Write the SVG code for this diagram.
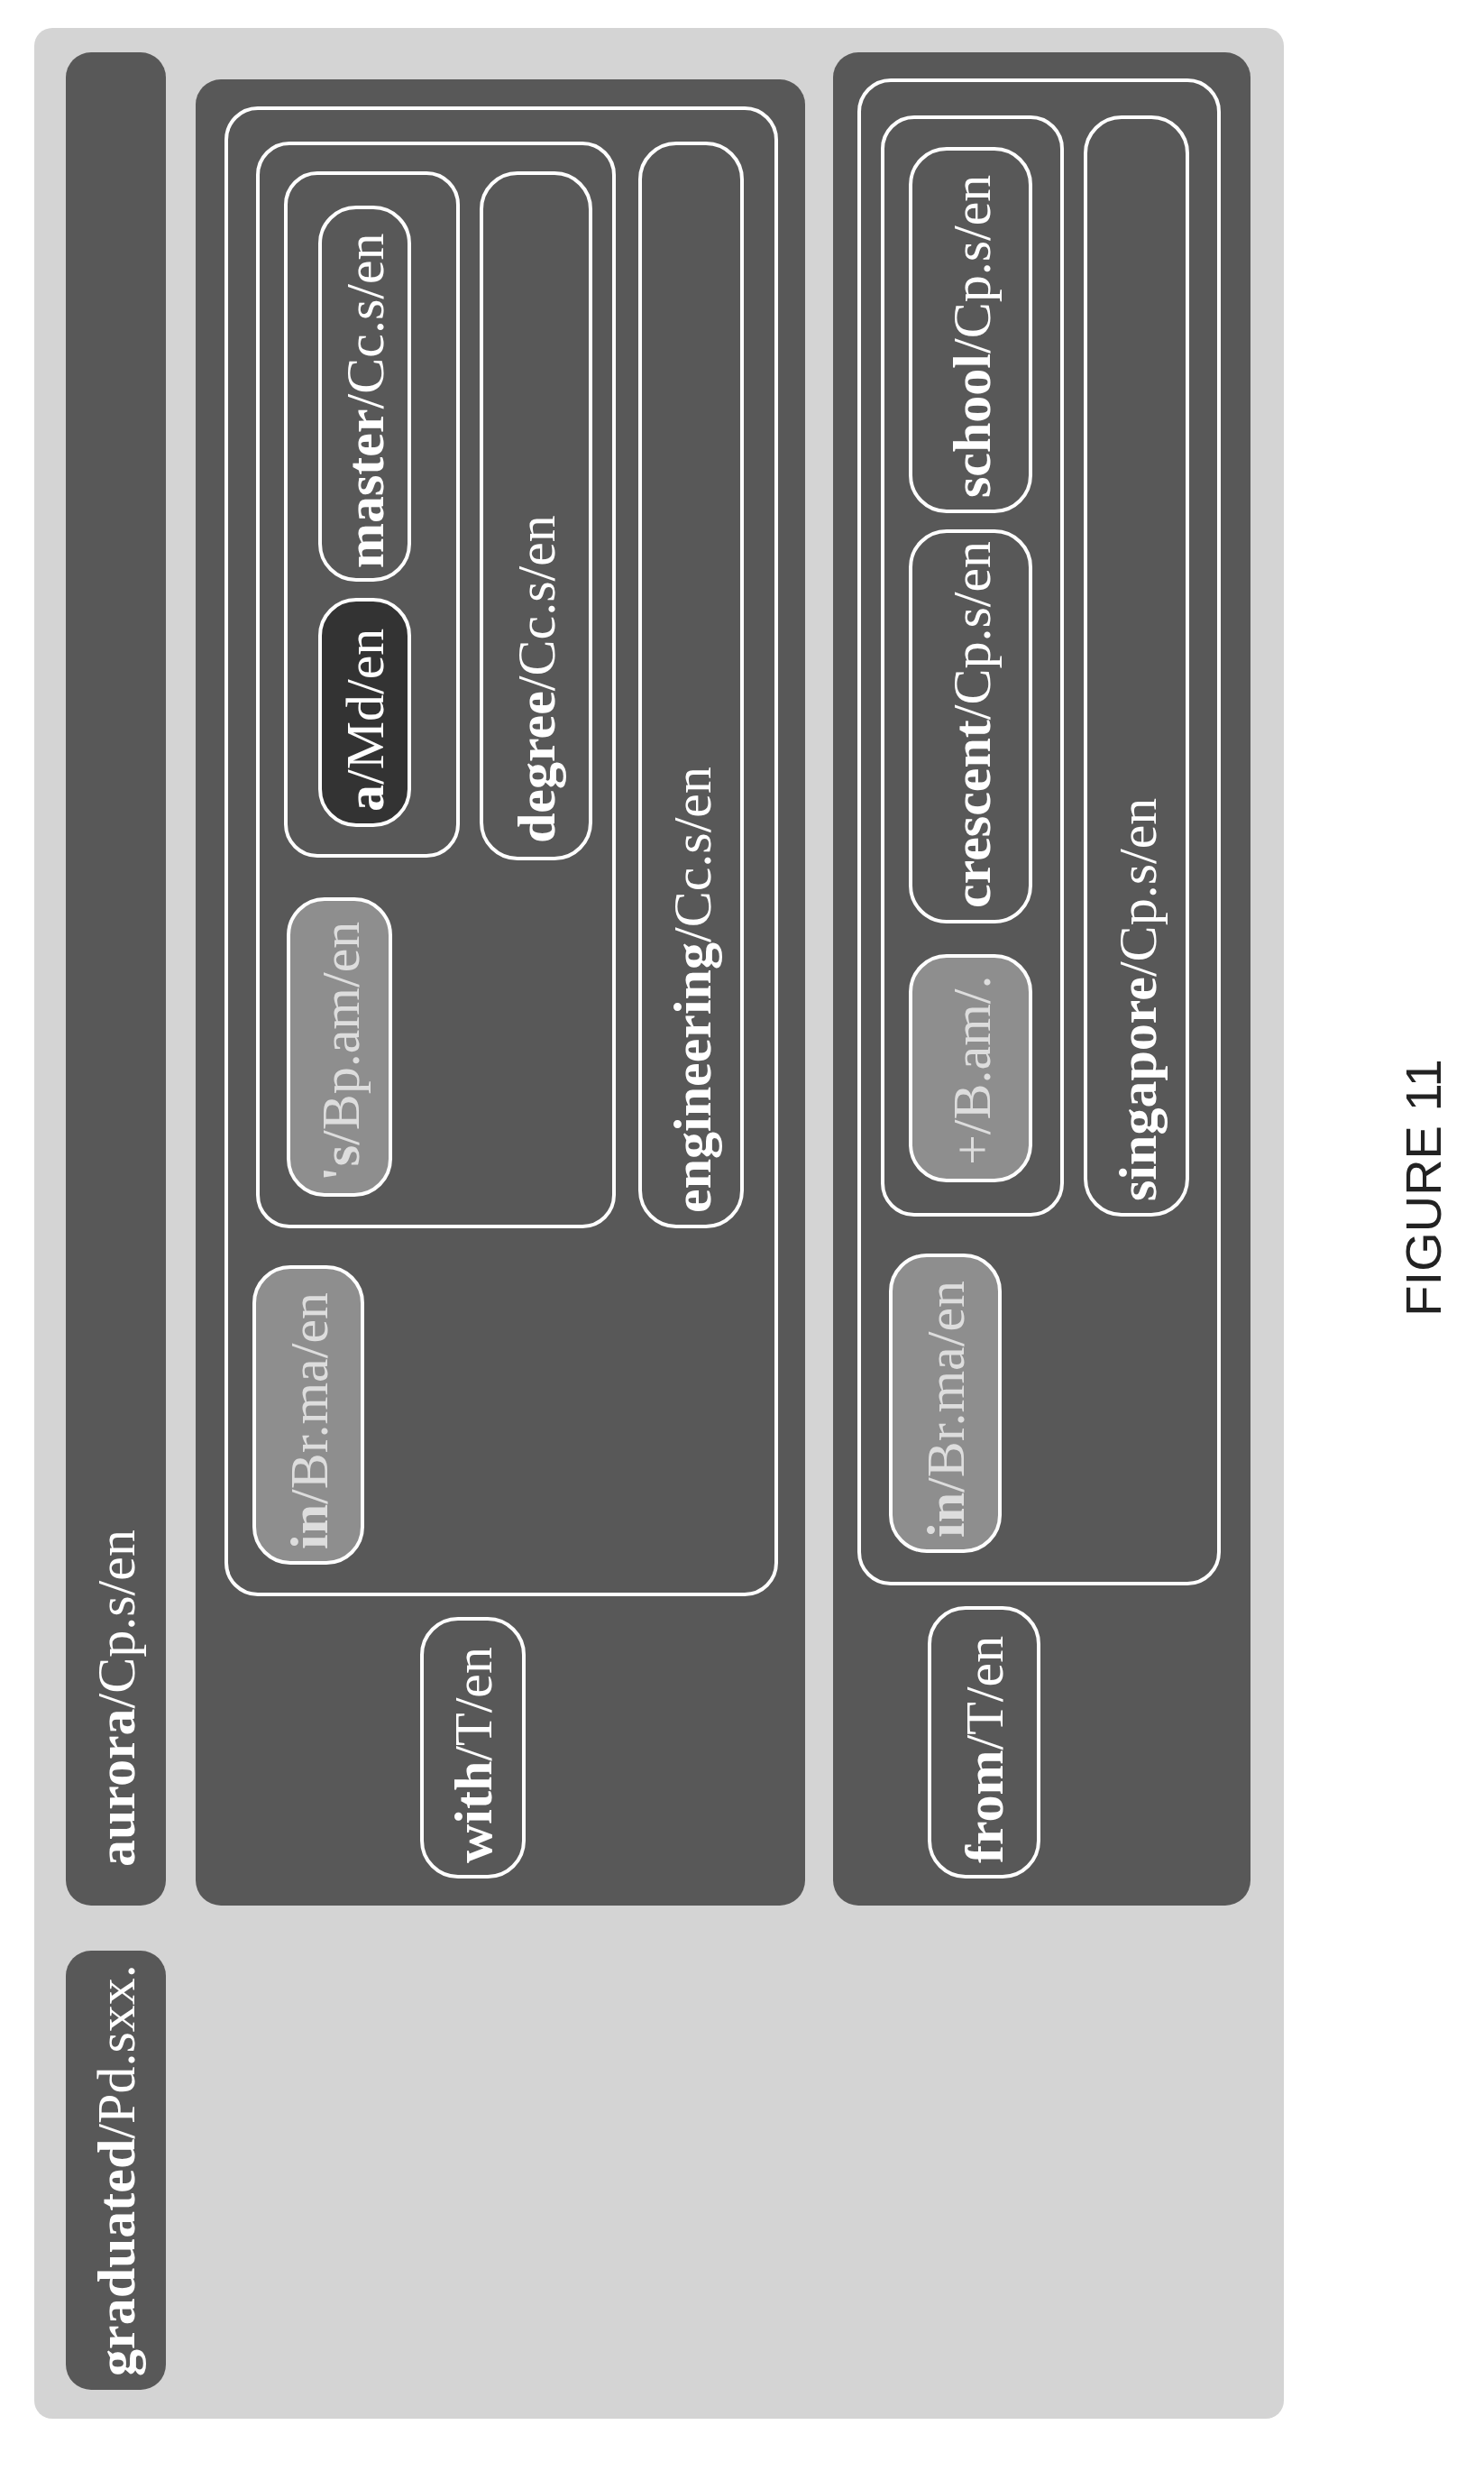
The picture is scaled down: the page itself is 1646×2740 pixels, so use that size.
<svg xmlns="http://www.w3.org/2000/svg" width="1646" height="2740" viewBox="0 0 1646 2740">
<style>
.bar{fill:#585858}
.box{fill:#585858;stroke:#fff;stroke-width:4}
.lt{fill:#8e8e8e;stroke:#fff;stroke-width:4}
.dk{fill:#333;stroke:#fff;stroke-width:4}
text{font-family:"Liberation Serif",serif;font-size:60px;fill:#fff}
.b{font-weight:bold}
.lbl{fill:#ddd}
</style>
<rect x="38" y="31" width="1386" height="2651" rx="20" fill="#d4d4d4"/>
<g id="aurora"><rect class="bar" x="73" y="58" width="111" height="2055" rx="28"/><text transform="translate(149 2070) rotate(-90)"><tspan class="b">aurora</tspan>/Cp.s/en</text></g>
<g id="graduated"><rect class="bar" x="73" y="2163" width="111" height="487" rx="28"/><text transform="translate(149 2635) rotate(-90)"><tspan class="b">graduated</tspan>/Pd.sxx.</text></g>
<g id="with-group"><rect class="bar" x="217" y="88" width="676" height="2025" rx="28"/>
<rect class="box" x="251" y="120" width="610" height="1648" rx="35"/>
<rect class="box" x="286" y="159" width="395" height="1201" rx="35"/>
<rect class="box" x="317" y="192" width="191" height="757" rx="35"/></g>
<g id="master"><rect class="box" x="355" y="230" width="99" height="413" rx="40"/><text transform="translate(425 630) rotate(-90)"><tspan class="b">master</tspan>/Cc.s/en</text></g>
<g id="a"><rect class="dk" x="355" y="665" width="99" height="250" rx="40"/><text transform="translate(425 900) rotate(-90)"><tspan class="b">a</tspan>/Md/en</text></g>
<g id="s"><rect class="lt" x="320" y="997" width="113" height="328" rx="40"/><text class="lbl" transform="translate(398 1310) rotate(-90)"><tspan class="b">'s</tspan>/Bp.am/en</text></g>
<g id="degree"><rect class="box" x="534" y="192" width="121" height="760" rx="40"/><text transform="translate(615 935) rotate(-90)"><tspan class="b">degree</tspan>/Cc.s/en</text></g>
<g id="engineering"><rect class="box" x="710" y="159" width="113" height="1201" rx="40"/><text transform="translate(788 1345) rotate(-90)"><tspan class="b">engineering</tspan>/Cc.s/en</text></g>
<g id="in1"><rect class="lt" x="282" y="1405" width="120" height="328" rx="40"/><text class="lbl" transform="translate(363 1718) rotate(-90)"><tspan class="b">in</tspan>/Br.ma/en</text></g>
<g id="with"><rect class="box" x="468" y="1795" width="113" height="286" rx="40"/><text transform="translate(545 2066) rotate(-90)"><tspan class="b">with</tspan>/T/en</text></g>
<g id="from-group"><rect class="bar" x="924" y="58" width="463" height="2055" rx="28"/>
<rect class="box" x="953" y="89" width="399" height="1667" rx="35"/>
<rect class="box" x="979" y="130" width="199" height="1217" rx="35"/></g>
<g id="school"><rect class="box" x="1010" y="165" width="133" height="402" rx="40"/><text transform="translate(1098 552) rotate(-90)"><tspan class="b">school</tspan>/Cp.s/en</text></g>
<g id="crescent"><rect class="box" x="1010" y="589" width="133" height="433" rx="40"/><text transform="translate(1098 1007) rotate(-90)"><tspan class="b">crescent</tspan>/Cp.s/en</text></g>
<g id="plus"><rect class="lt" x="1010" y="1060" width="133" height="249" rx="40"/><text class="lbl" transform="translate(1098 1292) rotate(-90)">+/B.am/.</text></g>
<g id="singapore"><rect class="box" x="1204" y="130" width="113" height="1217" rx="40"/><text transform="translate(1282 1332) rotate(-90)"><tspan class="b">singapore</tspan>/Cp.s/en</text></g>
<g id="in2"><rect class="lt" x="988" y="1392" width="121" height="328" rx="40"/><text class="lbl" transform="translate(1069 1705) rotate(-90)"><tspan class="b">in</tspan>/Br.ma/en</text></g>
<g id="from"><rect class="box" x="1031" y="1783" width="121" height="298" rx="40"/><text transform="translate(1112 2066) rotate(-90)"><tspan class="b">from</tspan>/T/en</text></g>
<g id="connectors"/>
<text transform="translate(1598 1317) rotate(-90)" text-anchor="middle" style="font-family:'Liberation Sans',sans-serif;font-size:56px;fill:#222">FIGURE 11</text>
</svg>
